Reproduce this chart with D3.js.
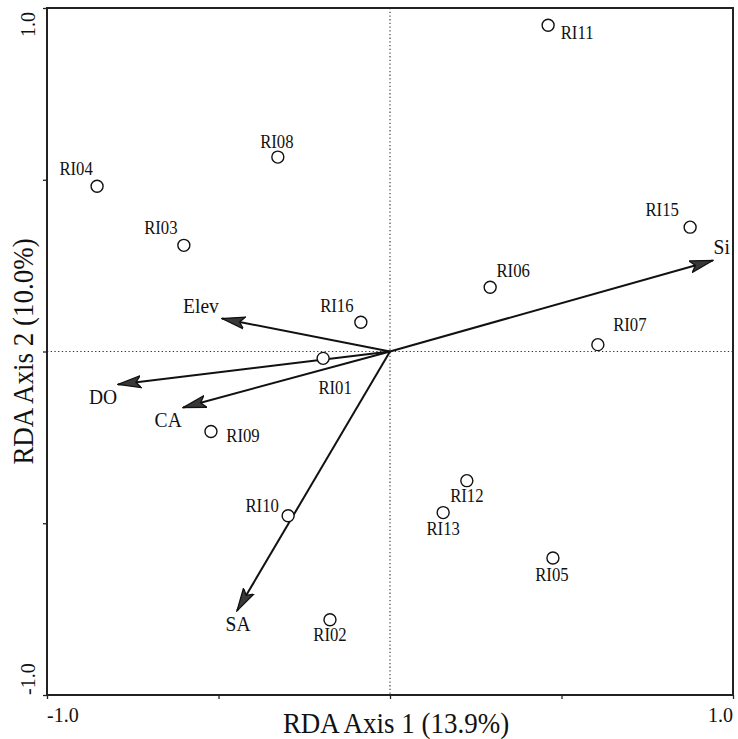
<!DOCTYPE html>
<html>
<head>
<meta charset="utf-8">
<script src="https://cdn.jsdelivr.net/npm/d3@7"></script>
<style>
  html, body { margin: 0; padding: 0; background: #fff; }
  svg { display: block; }
  text { font-family: "Liberation Serif", "DejaVu Serif", serif; fill: #111; }
</style>
</head>
<body>
<svg id="chart" width="738" height="739"></svg>
<script>
// ---- Data ----
const sites = ["RI01","RI02","RI03","RI04","RI05","RI06","RI07","RI08","RI09","RI10","RI11","RI12","RI13","RI15","RI16"];
const siteAxis1 = [-0.195,-0.175,-0.601,-0.854,0.475,0.292,0.606,-0.327,-0.522,-0.297,0.461,0.224,0.155,0.875,-0.085];
const siteAxis2 = [-0.020,-0.781,0.309,0.481,-0.601,0.187,0.020,0.566,-0.233,-0.478,0.950,-0.376,-0.469,0.362,0.085];

const variables = ["Si","Elev","DO","CA","SA"];
const varAxis1 = [0.941,-0.490,-0.793,-0.603,-0.446];
const varAxis2 = [0.265,0.096,-0.096,-0.163,-0.755];

const axisTickValues = [-1,-0.5,0,0.5,1];
const endTickLabels = ["-1.0","1.0"];
const xTitle = "RDA Axis 1 (13.9%)";
const yTitle = "RDA Axis 2 (10.0%)";

// ---- Label placement (pixel offsets from mark) ----
const siteLabelOffset = {
  RI01:[12,36], RI02:[0,21], RI03:[-23,-11], RI04:[-21,-11], RI05:[-1,23],
  RI06:[23,-10], RI07:[32,-14], RI08:[-1,-9], RI09:[32,10], RI10:[-26,-4],
  RI11:[29,14], RI12:[0,21], RI13:[0,22], RI15:[-28,-11], RI16:[-24,-10]
};
const varLabelOffset = { Si:[9,-6], Elev:[-21,-6], DO:[-15,20], CA:[-15,20], SA:[1,20] };

// ---- Layout ----
const svg = d3.select("#chart");
const L = 47, R = 733, T = 8, B = 695;
const x = d3.scaleLinear().domain([-1,1]).range([L,R]);
const y = d3.scaleLinear().domain([-1,1]).range([B,T]);

// Arrow marker
const defs = svg.append("defs");
defs.append("marker")
  .attr("id","arrow")
  .attr("viewBox","0 0 24 14")
  .attr("refX",23).attr("refY",7)
  .attr("markerWidth",24).attr("markerHeight",14)
  .attr("markerUnits","userSpaceOnUse")
  .attr("orient","auto")
  .append("path")
  .attr("d","M0,1 L23,7 L0,13 L5,7 Z")
  .attr("fill","#383838").attr("stroke","#111").attr("stroke-width",1.3)
  .attr("stroke-linejoin","miter");

// Dotted zero lines
svg.append("line")
  .attr("x1",x(0)).attr("x2",x(0)).attr("y1",T).attr("y2",B)
  .attr("stroke","#333").attr("stroke-width",1.1).attr("stroke-dasharray","1.3,2.4");
svg.append("line")
  .attr("x1",L).attr("x2",R).attr("y1",y(0)).attr("y2",y(0))
  .attr("stroke","#333").attr("stroke-width",1.1).attr("stroke-dasharray","1.3,2.4");

// Axes (ticks only)
const xAxis = d3.axisBottom(x).tickValues(axisTickValues).tickSize(4).tickFormat("");
const yAxis = d3.axisLeft(y).tickValues(axisTickValues).tickSize(4).tickFormat("");
const gx = svg.append("g").attr("transform",`translate(0,${B})`).call(xAxis);
const gy = svg.append("g").attr("transform",`translate(${L},0)`).call(yAxis);
[gx,gy].forEach(g => {
  g.select(".domain").remove();
  g.selectAll(".tick line").attr("stroke","#222").attr("stroke-width",1.3);
});

// Frame
svg.append("rect")
  .attr("x",L).attr("y",T).attr("width",R-L).attr("height",B-T)
  .attr("fill","none").attr("stroke","#222").attr("stroke-width",2);

// Tick labels (ends only)
svg.append("text").attr("x",x(-1)).attr("y",722).attr("text-anchor","start")
  .attr("font-size",20).text(endTickLabels[0]);
svg.append("text").attr("x",x(1)).attr("y",722).attr("text-anchor","end")
  .attr("font-size",20).text(endTickLabels[1]);
svg.append("text").attr("transform",`translate(35,${y(1)+4}) rotate(-90)`)
  .attr("text-anchor","end").attr("font-size",20).text(endTickLabels[1]);
svg.append("text").attr("transform",`translate(35,${y(-1)}) rotate(-90)`)
  .attr("text-anchor","start").attr("font-size",20).text(endTickLabels[0]);

// Axis titles
svg.append("text").attr("transform",`translate(${x(0)+6},733) scale(0.93,1)`)
  .attr("text-anchor","middle").attr("font-size",29).text(xTitle);
svg.append("text").attr("transform",`translate(33,${y(0)}) rotate(-90) scale(0.93,1)`)
  .attr("text-anchor","middle").attr("font-size",29).text(yTitle);

// Vectors
const vars = variables.map((v,i) => ({name:v, a1:varAxis1[i], a2:varAxis2[i]}));
svg.append("g").selectAll("line").data(vars).join("line")
  .attr("x1",x(0)).attr("y1",y(0))
  .attr("x2",d=>x(d.a1)).attr("y2",d=>y(d.a2))
  .attr("stroke","#111").attr("stroke-width",2)
  .attr("marker-end","url(#arrow)");
svg.append("g").selectAll("text").data(vars).join("text")
  .attr("transform",d=>`translate(${x(d.a1)+varLabelOffset[d.name][0]},${y(d.a2)+varLabelOffset[d.name][1]}) scale(0.93,1)`)
  .attr("text-anchor","middle").attr("font-size",21).text(d=>d.name);

// Sites
const pts = sites.map((s,i) => ({name:s, a1:siteAxis1[i], a2:siteAxis2[i]}));
svg.append("g").selectAll("circle").data(pts).join("circle")
  .attr("cx",d=>x(d.a1)).attr("cy",d=>y(d.a2)).attr("r",6)
  .attr("fill","#fff").attr("stroke","#111").attr("stroke-width",1.4);
svg.append("g").selectAll("text").data(pts).join("text")
  .attr("transform",d=>`translate(${x(d.a1)+siteLabelOffset[d.name][0]},${y(d.a2)+siteLabelOffset[d.name][1]}) scale(0.88,1)`)
  .attr("text-anchor","middle").attr("font-size",19).text(d=>d.name);
</script>
</body>
</html>
